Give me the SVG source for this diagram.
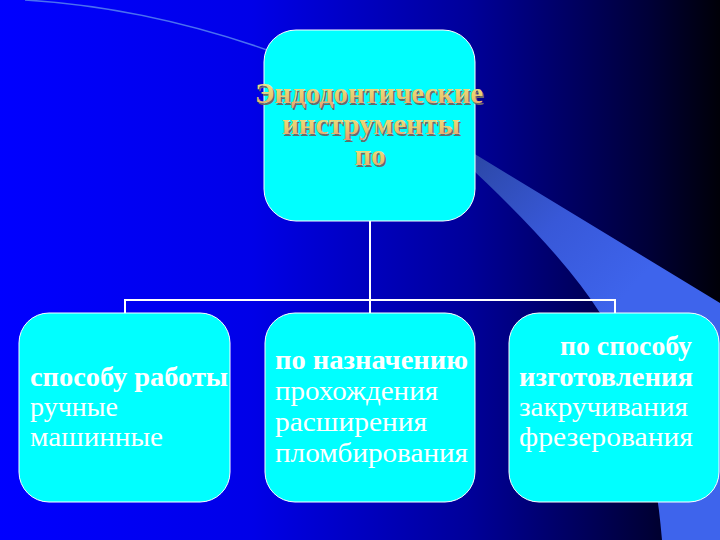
<svg xmlns="http://www.w3.org/2000/svg" width="720" height="540" viewBox="0 0 720 540">
  <defs>
    <linearGradient id="bg" x1="0" y1="0" x2="1" y2="0">
      <stop offset="0" stop-color="#0000ff"/>
      <stop offset="0.35" stop-color="#0000e8"/>
      <stop offset="0.65" stop-color="#00009a"/>
      <stop offset="0.9" stop-color="#000038"/>
      <stop offset="1" stop-color="#000008"/>
    </linearGradient>
    <linearGradient id="wedge" x1="475" y1="160" x2="620" y2="300" gradientUnits="userSpaceOnUse">
      <stop offset="0" stop-color="#2c48a8"/>
      <stop offset="0.5" stop-color="#3858d8"/>
      <stop offset="1" stop-color="#3e64ec"/>
    </linearGradient>
    <linearGradient id="gold" x1="0" y1="0" x2="0" y2="1">
      <stop offset="0" stop-color="#f4ec90"/>
      <stop offset="0.6" stop-color="#e8cc70"/>
      <stop offset="1" stop-color="#e89878"/>
    </linearGradient>
    <style>
      .box { fill: #00ffff; stroke: #ffffff; stroke-width: 1; }
      .conn { fill: none; stroke: #ffffff; stroke-width: 2; }
      .t { font-family: "Liberation Serif", "Times New Roman", serif; font-size: 27px; fill: #ffffff; }
      .b { font-weight: bold; }
      .title { font-family: "Liberation Serif", "Times New Roman", serif; font-size: 29px; font-weight: bold; text-anchor: middle; }
      .shadow { fill: #6a6a6a; }
      .goldt { fill: url(#gold); }
    </style>
  </defs>

  <!-- background -->
  <rect x="0" y="0" width="720" height="540" fill="url(#bg)"/>
  <path d="M25,0 Q160,8 300,62" fill="none" stroke="#4a70f0" stroke-width="1.5"/>
  <path d="M460,145 L720,303 L720,540 L662,540 Q650,400 600,313 Q560,250 460,158 Z" fill="url(#wedge)"/>

  <!-- connectors -->
  <g id="connectors">
    <path class="conn" d="M370,221 L370,300"/>
    <path class="conn" d="M125,313 L125,300 L615,300 L615,313"/>
    <path class="conn" d="M370,300 L370,313"/>
  </g>

  <!-- top node -->
  <g id="node-root">
    <rect class="box" x="264" y="30" width="211" height="191" rx="32" ry="32"/>
    <g class="title shadow" transform="translate(1.5,1.5)">
      <text x="369" y="103" textLength="228" lengthAdjust="spacingAndGlyphs">Эндодонтические</text>
      <text x="371" y="134" textLength="178" lengthAdjust="spacingAndGlyphs">инструменты</text>
      <text x="370" y="165">по</text>
    </g>
    <g class="title goldt">
      <text x="369" y="103" textLength="228" lengthAdjust="spacingAndGlyphs">Эндодонтические</text>
      <text x="371" y="134" textLength="178" lengthAdjust="spacingAndGlyphs">инструменты</text>
      <text x="370" y="165">по</text>
    </g>
  </g>

  <!-- left node -->
  <g id="node-work">
    <rect class="box" x="19" y="313" width="211" height="189" rx="30" ry="30"/>
    <text class="t b" x="30" y="386" textLength="198" lengthAdjust="spacingAndGlyphs">способу работы</text>
    <text class="t" x="30" y="416" textLength="88" lengthAdjust="spacingAndGlyphs">ручные</text>
    <text class="t" x="30" y="446" textLength="133" lengthAdjust="spacingAndGlyphs">машинные</text>
  </g>

  <!-- middle node -->
  <g id="node-purpose">
    <rect class="box" x="265" y="313" width="210" height="189" rx="30" ry="30"/>
    <text class="t b" x="275" y="369" textLength="193" lengthAdjust="spacingAndGlyphs">по назначению</text>
    <text class="t" x="275" y="400" textLength="163" lengthAdjust="spacingAndGlyphs">прохождения</text>
    <text class="t" x="275" y="431" textLength="152" lengthAdjust="spacingAndGlyphs">расширения</text>
    <text class="t" x="275" y="462" textLength="193" lengthAdjust="spacingAndGlyphs">пломбирования</text>
  </g>

  <!-- right node -->
  <g id="node-make">
    <rect class="box" x="509" y="313" width="210" height="189" rx="30" ry="30"/>
    <text class="t b" x="560" y="355" textLength="132" lengthAdjust="spacingAndGlyphs">по способу</text>
    <text class="t b" x="519" y="386" textLength="174" lengthAdjust="spacingAndGlyphs">изготовления</text>
    <text class="t" x="519" y="416" textLength="169" lengthAdjust="spacingAndGlyphs">закручивания</text>
    <text class="t" x="519" y="446" textLength="174" lengthAdjust="spacingAndGlyphs">фрезерования</text>
  </g>
</svg>
